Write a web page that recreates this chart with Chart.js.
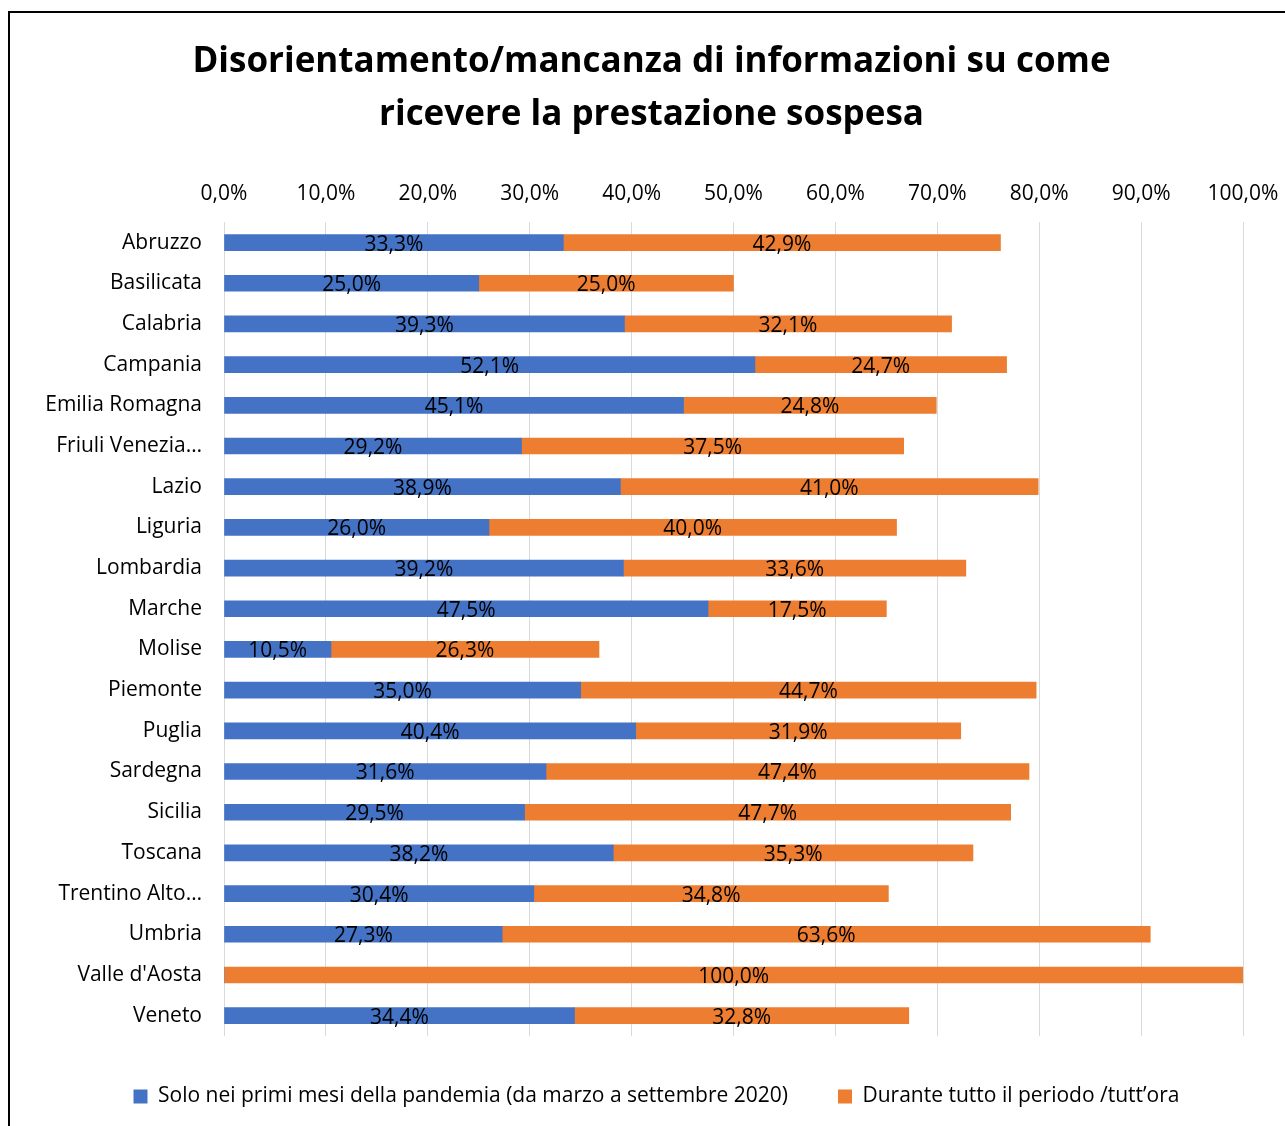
<!DOCTYPE html>
<html>
<head>
<meta charset="utf-8">
<script src="https://cdn.jsdelivr.net/npm/chart.js@4"></script>
<style>
  html, body { margin: 0; padding: 0; background: #fff; overflow: hidden; width: 1285px; height: 1126px; }
  #frame { position: absolute; left: 8px; top: 11px; width: 1400px; height: 1200px; border-left: 2px solid #000; border-top: 2px solid #000; }
  #c { position: absolute; left: 0; top: 0; }
</style>
</head>
<body>
<div id="frame"></div>
<canvas id="c" width="1285" height="1126"></canvas>
<script>
const FONT = "'Open Sans', sans-serif";

const categories = ["Abruzzo", "Basilicata", "Calabria", "Campania", "Emilia Romagna", "Friuli Venezia\u2026", "Lazio", "Liguria", "Lombardia", "Marche", "Molise", "Piemonte", "Puglia", "Sardegna", "Sicilia", "Toscana", "Trentino Alto\u2026", "Umbria", "Valle d'Aosta", "Veneto"];
const seriesNames = ["Solo nei primi mesi della pandemia (da marzo a settembre 2020)", "Durante tutto il periodo /tutt\u2019ora"];
const soloPrimiMesi = [33.3, 25.0, 39.3, 52.1, 45.1, 29.2, 38.9, 26.0, 39.2, 47.5, 10.5, 35.0, 40.4, 31.6, 29.5, 38.2, 30.4, 27.3, 0, 34.4];
const tuttoPeriodo = [42.9, 25.0, 32.1, 24.7, 24.8, 37.5, 41.0, 40.0, 33.6, 17.5, 26.3, 44.7, 31.9, 47.4, 47.7, 35.3, 34.8, 63.6, 100.0, 32.8];
const titleLines = ["Disorientamento/mancanza di informazioni su come", "ricevere la prestazione sospesa"];
const xTickMin = 0, xTickMax = 100, xTickStep = 10;

const fmt = v => v.toFixed(1).replace('.', ',') + '%';

const labelPlugin = {
  id: 'barLabels',
  afterLayout(chart) {
    // centre title and legend on the block spanned by the plot, as in the original
    if (chart.legend) chart.legend.left = 70;
    if (chart.titleBlock) chart.titleBlock.left = 60;
  },
  afterDatasetsDraw(chart) {
    const ctx = chart.ctx;
    ctx.save();
    ctx.font = "21px " + FONT;
    ctx.fillStyle = '#000';
    ctx.textAlign = 'center';
    ctx.textBaseline = 'middle';
    chart.data.datasets.forEach((ds, di) => {
      const meta = chart.getDatasetMeta(di);
      meta.data.forEach((el, i) => {
        const v = ds.data[i];
        if (!v) return;
        const cx = (el.x + el.base) / 2;
        ctx.fillText(fmt(v), cx, el.y + 2);
      });
    });
    ctx.restore();
  }
};

new Chart(document.getElementById('c'), {
  type: 'bar',
  data: {
    labels: categories,
    datasets: [
      { label: seriesNames[0], data: soloPrimiMesi, backgroundColor: '#4472C4', barThickness: 16 },
      { label: seriesNames[1], data: tuttoPeriodo, backgroundColor: '#ED7D31', barThickness: 16 }
    ]
  },
  options: {
    indexAxis: 'y',
    responsive: false,
    animation: false,
    layout: { padding: { left: 10, right: 42, top: 0, bottom: 9 } },
    scales: {
      x: {
        position: 'top',
        stacked: true,
        min: xTickMin, max: xTickMax,
        ticks: { stepSize: xTickStep, color: '#000', font: { size: 21, family: FONT }, padding: 16, callback: v => fmt(v) },
        grid: { color: '#D9D9D9', lineWidth: 1, drawTicks: false },
        border: { display: false },
        afterFit: s => { s.paddingLeft = 0; s.paddingRight = 0; }
      },
      y: {
        stacked: true,
        ticks: { color: '#000', font: { size: 21, family: FONT }, padding: 22 },
        grid: { display: false, drawTicks: false },
        border: { display: false },
        afterFit: s => { s.width = 214; }
      }
    },
    plugins: {
      title: {
        display: true,
        text: titleLines,
        color: '#000',
        font: { size: 35, weight: 'bold', family: FONT, lineHeight: 1.5 },
        padding: { top: 36, bottom: 24 }
      },
      legend: {
        position: 'bottom',
        labels: { boxWidth: 14, boxHeight: 14, color: '#000', font: { size: 21, family: FONT }, padding: 50 }
      },
      tooltip: { enabled: false }
    }
  },
  plugins: [labelPlugin]
});
</script>
</body>
</html>
